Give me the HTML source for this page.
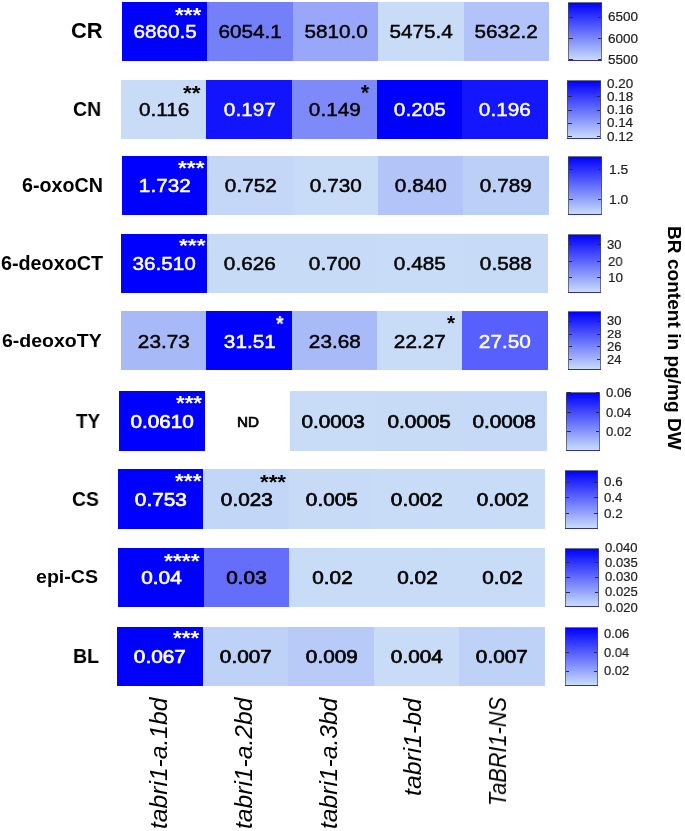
<!DOCTYPE html>
<html><head><meta charset="utf-8"><style>
html,body{margin:0;padding:0;background:#fff;}
body{width:685px;height:831px;position:relative;overflow:hidden;font-family:"Liberation Sans",sans-serif;}
.t{position:absolute;line-height:1;white-space:nowrap;transform-origin:0 0;color:#000;will-change:transform;}
.c{position:absolute;display:flex;align-items:center;justify-content:center;font-size:19px;color:#000;}
.c span{display:inline-block;transform:scaleX(1.09);-webkit-text-stroke:0.6px currentColor;will-change:transform;}
.cb{position:absolute;box-sizing:border-box;border:1px solid rgba(70,70,85,0.7);background:linear-gradient(to bottom,#0000ff,#c8dcfa);}
.tk{position:absolute;height:1px;width:3.5px;background:#2a2a3a;}
</style></head><body>

<div class="c" style="left:122.00px;top:1.80px;width:86.00px;height:59.00px;background:rgb(0,0,255);color:#fff;"><span style="position:relative;top:0.55px;-webkit-text-stroke-width:0.45px">6860.5</span></div>
<div class="c" style="left:207.40px;top:1.80px;width:86.00px;height:59.00px;background:rgb(116,128,250);color:#000;"><span style="position:relative;top:0.55px;-webkit-text-stroke-width:0.45px">6054.1</span></div>
<div class="c" style="left:292.80px;top:1.80px;width:86.00px;height:59.00px;background:rgb(152,167,249);color:#000;"><span style="position:relative;top:0.55px;-webkit-text-stroke-width:0.45px">5810.0</span></div>
<div class="c" style="left:378.20px;top:1.80px;width:86.00px;height:59.00px;background:rgb(200,220,247);color:#000;"><span style="position:relative;top:0.55px;-webkit-text-stroke-width:0.45px">5475.4</span></div>
<div class="c" style="left:463.60px;top:1.80px;width:85.40px;height:59.00px;background:rgb(177,195,248);color:#000;"><span style="position:relative;top:0.55px;-webkit-text-stroke-width:0.45px">5632.2</span></div>
<div class="t" style="left:71.04px;top:20.13px;font-size:21.83px;transform:scaleX(1.0058);font-weight:bold;">CR</div>
<div class="t" style="left:174.90px;top:5.21px;font-size:20.54px;transform:scaleX(1.0996);font-weight:bold;color:#fff;">***</div>
<div class="cb" style="left:568.3px;top:1.5px;width:33.3px;height:59.2px;"></div>
<div class="tk" style="left:569.3px;top:17.3px;"></div>
<div class="tk" style="left:597.6px;top:17.3px;"></div>
<div class="tk" style="left:569.3px;top:38.1px;"></div>
<div class="tk" style="left:597.6px;top:38.1px;"></div>
<div class="tk" style="left:569.3px;top:58.8px;"></div>
<div class="tk" style="left:597.6px;top:58.8px;"></div>
<div class="t" style="left:608.28px;top:11.40px;font-size:12.39px;transform:scaleX(1.0909);color:#1e1e1e;-webkit-text-stroke:0.2px #1e1e1e;">6500</div>
<div class="t" style="left:608.28px;top:32.90px;font-size:12.39px;transform:scaleX(1.0909);color:#1e1e1e;-webkit-text-stroke:0.2px #1e1e1e;">6000</div>
<div class="t" style="left:608.42px;top:53.54px;font-size:12.39px;transform:scaleX(1.0858);color:#1e1e1e;-webkit-text-stroke:0.2px #1e1e1e;">5500</div>
<div class="c" style="left:121.00px;top:80.00px;width:85.94px;height:58.60px;background:rgb(200,220,247);color:#000;"><span style="position:relative;top:1.10px;-webkit-text-stroke-width:0.45px">0.116</span></div>
<div class="c" style="left:206.34px;top:80.00px;width:85.94px;height:58.60px;background:rgb(18,20,254);color:#fff;"><span style="position:relative;top:1.10px;-webkit-text-stroke-width:0.45px">0.197</span></div>
<div class="c" style="left:291.68px;top:80.00px;width:85.94px;height:58.60px;background:rgb(126,138,250);color:#000;"><span style="position:relative;top:1.10px;-webkit-text-stroke-width:0.45px">0.149</span></div>
<div class="c" style="left:377.02px;top:80.00px;width:85.94px;height:58.60px;background:rgb(0,0,255);color:#fff;"><span style="position:relative;top:1.10px;-webkit-text-stroke-width:0.45px">0.205</span></div>
<div class="c" style="left:462.36px;top:80.00px;width:85.34px;height:58.60px;background:rgb(20,22,254);color:#fff;"><span style="position:relative;top:1.10px;-webkit-text-stroke-width:0.45px">0.196</span></div>
<div class="t" style="left:72.88px;top:99.84px;font-size:19.72px;transform:scaleX(0.9878);font-weight:bold;">CN</div>
<div class="t" style="left:183.20px;top:82.57px;font-size:20.54px;transform:scaleX(1.0985);font-weight:bold;color:#000;">**</div>
<div class="t" style="left:360.56px;top:81.76px;font-size:21.62px;transform:scaleX(0.9487);font-weight:bold;color:#000;">*</div>
<div class="cb" style="left:567.2px;top:80.3px;width:33.7px;height:59.2px;"></div>
<div class="tk" style="left:568.2px;top:82.9px;"></div>
<div class="tk" style="left:596.9px;top:82.9px;"></div>
<div class="tk" style="left:568.2px;top:96.3px;"></div>
<div class="tk" style="left:596.9px;top:96.3px;"></div>
<div class="tk" style="left:568.2px;top:109.5px;"></div>
<div class="tk" style="left:596.9px;top:109.5px;"></div>
<div class="tk" style="left:568.2px;top:122.6px;"></div>
<div class="tk" style="left:596.9px;top:122.6px;"></div>
<div class="tk" style="left:568.2px;top:135.8px;"></div>
<div class="tk" style="left:596.9px;top:135.8px;"></div>
<div class="t" style="left:607.12px;top:78.98px;font-size:11.97px;transform:scaleX(1.1212);color:#1e1e1e;-webkit-text-stroke:0.2px #1e1e1e;">0.20</div>
<div class="t" style="left:607.12px;top:90.96px;font-size:12.11px;transform:scaleX(1.1141);color:#1e1e1e;-webkit-text-stroke:0.2px #1e1e1e;">0.18</div>
<div class="t" style="left:607.12px;top:103.96px;font-size:12.25px;transform:scaleX(1.1013);color:#1e1e1e;-webkit-text-stroke:0.2px #1e1e1e;">0.16</div>
<div class="t" style="left:607.13px;top:117.32px;font-size:12.25px;transform:scaleX(1.0896);color:#1e1e1e;-webkit-text-stroke:0.2px #1e1e1e;">0.14</div>
<div class="t" style="left:607.12px;top:131.62px;font-size:11.97px;transform:scaleX(1.1272);color:#1e1e1e;-webkit-text-stroke:0.2px #1e1e1e;">0.12</div>
<div class="c" style="left:122.00px;top:156.00px;width:85.96px;height:59.10px;background:rgb(0,0,255);color:#fff;"><span style="position:relative;top:0.30px;-webkit-text-stroke-width:0.50px">1.732</span></div>
<div class="c" style="left:207.36px;top:156.00px;width:85.96px;height:59.10px;background:rgb(196,215,247);color:#000;"><span style="position:relative;top:0.30px;-webkit-text-stroke-width:0.50px">0.752</span></div>
<div class="c" style="left:292.72px;top:156.00px;width:85.96px;height:59.10px;background:rgb(200,220,247);color:#000;"><span style="position:relative;top:0.30px;-webkit-text-stroke-width:0.50px">0.730</span></div>
<div class="c" style="left:378.08px;top:156.00px;width:85.96px;height:59.10px;background:rgb(178,196,248);color:#000;"><span style="position:relative;top:0.30px;-webkit-text-stroke-width:0.50px">0.840</span></div>
<div class="c" style="left:463.44px;top:156.00px;width:85.36px;height:59.10px;background:rgb(188,207,247);color:#000;"><span style="position:relative;top:0.30px;-webkit-text-stroke-width:0.50px">0.789</span></div>
<div class="t" style="left:22.49px;top:175.70px;font-size:19.58px;transform:scaleX(1.0050);font-weight:bold;">6-oxoCN</div>
<div class="t" style="left:178.42px;top:158.64px;font-size:19.73px;transform:scaleX(1.1491);font-weight:bold;color:#fff;">***</div>
<div class="cb" style="left:568.4px;top:155.8px;width:33.4px;height:59.4px;"></div>
<div class="tk" style="left:569.4px;top:169.1px;"></div>
<div class="tk" style="left:597.8px;top:169.1px;"></div>
<div class="tk" style="left:569.4px;top:198.8px;"></div>
<div class="tk" style="left:597.8px;top:198.8px;"></div>
<div class="t" style="left:608.81px;top:162.87px;font-size:13.29px;transform:scaleX(1.0431);color:#1e1e1e;-webkit-text-stroke:0.2px #1e1e1e;">1.5</div>
<div class="t" style="left:608.81px;top:192.68px;font-size:13.10px;transform:scaleX(1.0580);color:#1e1e1e;-webkit-text-stroke:0.2px #1e1e1e;">1.0</div>
<div class="c" style="left:121.20px;top:233.75px;width:85.96px;height:59.45px;background:rgb(0,0,255);color:#fff;"><span style="position:relative;top:0.80px;-webkit-text-stroke-width:0.50px">36.510</span></div>
<div class="c" style="left:206.56px;top:233.75px;width:85.96px;height:59.45px;background:rgb(199,219,247);color:#000;"><span style="position:relative;top:0.80px;-webkit-text-stroke-width:0.50px">0.626</span></div>
<div class="c" style="left:291.92px;top:233.75px;width:85.96px;height:59.45px;background:rgb(199,219,247);color:#000;"><span style="position:relative;top:0.80px;-webkit-text-stroke-width:0.50px">0.700</span></div>
<div class="c" style="left:377.28px;top:233.75px;width:85.96px;height:59.45px;background:rgb(200,220,247);color:#000;"><span style="position:relative;top:0.80px;-webkit-text-stroke-width:0.50px">0.485</span></div>
<div class="c" style="left:462.64px;top:233.75px;width:85.36px;height:59.45px;background:rgb(199,219,247);color:#000;"><span style="position:relative;top:0.80px;-webkit-text-stroke-width:0.50px">0.588</span></div>
<div class="t" style="left:0.97px;top:254.21px;font-size:19.59px;transform:scaleX(1.0087);font-weight:bold;">6-deoxoCT</div>
<div class="t" style="left:178.50px;top:235.81px;font-size:19.19px;transform:scaleX(1.1815);font-weight:bold;color:#fff;">***</div>
<div class="cb" style="left:567.9px;top:233.6px;width:33.2px;height:59.6px;"></div>
<div class="tk" style="left:568.9px;top:244.2px;"></div>
<div class="tk" style="left:597.1px;top:244.2px;"></div>
<div class="tk" style="left:568.9px;top:260.6px;"></div>
<div class="tk" style="left:597.1px;top:260.6px;"></div>
<div class="tk" style="left:568.9px;top:276.9px;"></div>
<div class="tk" style="left:597.1px;top:276.9px;"></div>
<div class="t" style="left:607.34px;top:237.82px;font-size:13.10px;transform:scaleX(0.9932);color:#1e1e1e;-webkit-text-stroke:0.2px #1e1e1e;">30</div>
<div class="t" style="left:608.00px;top:254.61px;font-size:13.52px;transform:scaleX(0.9716);color:#1e1e1e;-webkit-text-stroke:0.2px #1e1e1e;">20</div>
<div class="t" style="left:607.58px;top:270.68px;font-size:13.10px;transform:scaleX(1.0333);color:#1e1e1e;-webkit-text-stroke:0.2px #1e1e1e;">10</div>
<div class="c" style="left:121.00px;top:311.40px;width:85.94px;height:58.90px;background:rgb(168,185,248);color:#000;"><span style="position:relative;top:0.80px;-webkit-text-stroke-width:0.50px">23.73</span></div>
<div class="c" style="left:206.34px;top:311.40px;width:85.94px;height:58.90px;background:rgb(0,0,255);color:#fff;"><span style="position:relative;top:0.80px;-webkit-text-stroke-width:0.50px">31.51</span></div>
<div class="c" style="left:291.68px;top:311.40px;width:85.94px;height:58.90px;background:rgb(169,186,248);color:#000;"><span style="position:relative;top:0.80px;-webkit-text-stroke-width:0.50px">23.68</span></div>
<div class="c" style="left:377.02px;top:311.40px;width:85.94px;height:58.90px;background:rgb(200,220,247);color:#000;"><span style="position:relative;top:0.80px;-webkit-text-stroke-width:0.50px">22.27</span></div>
<div class="c" style="left:462.36px;top:311.40px;width:85.34px;height:58.90px;background:rgb(87,95,252);color:#fff;"><span style="position:relative;top:0.80px;-webkit-text-stroke-width:0.50px">27.50</span></div>
<div class="t" style="left:2.32px;top:331.66px;font-size:18.51px;transform:scaleX(1.0536);font-weight:bold;">6-deoxoTY</div>
<div class="t" style="left:275.94px;top:313.48px;font-size:21.62px;transform:scaleX(0.9131);font-weight:bold;color:#fff;">*</div>
<div class="t" style="left:447.36px;top:312.91px;font-size:20.81px;transform:scaleX(0.9857);font-weight:bold;color:#000;">*</div>
<div class="cb" style="left:567.6px;top:311.3px;width:33.3px;height:59.2px;"></div>
<div class="tk" style="left:568.6px;top:320.5px;"></div>
<div class="tk" style="left:596.9px;top:320.5px;"></div>
<div class="tk" style="left:568.6px;top:333.5px;"></div>
<div class="tk" style="left:596.9px;top:333.5px;"></div>
<div class="tk" style="left:568.6px;top:346.4px;"></div>
<div class="tk" style="left:596.9px;top:346.4px;"></div>
<div class="tk" style="left:568.6px;top:359.0px;"></div>
<div class="tk" style="left:596.9px;top:359.0px;"></div>
<div class="t" style="left:607.06px;top:314.96px;font-size:12.11px;transform:scaleX(1.0741);color:#1e1e1e;-webkit-text-stroke:0.2px #1e1e1e;">30</div>
<div class="t" style="left:606.92px;top:328.91px;font-size:11.83px;transform:scaleX(1.1104);color:#1e1e1e;-webkit-text-stroke:0.2px #1e1e1e;">28</div>
<div class="t" style="left:606.92px;top:340.90px;font-size:12.68px;transform:scaleX(1.0364);color:#1e1e1e;-webkit-text-stroke:0.2px #1e1e1e;">26</div>
<div class="t" style="left:606.93px;top:353.66px;font-size:12.43px;transform:scaleX(1.0468);color:#1e1e1e;-webkit-text-stroke:0.2px #1e1e1e;">24</div>
<div class="c" style="left:119.10px;top:391.25px;width:86.14px;height:59.55px;background:rgb(0,0,255);color:#fff;"><span style="position:relative;top:0.95px;-webkit-text-stroke-width:0.70px">0.0610</span></div>
<div class="c" style="left:204.64px;top:391.25px;width:86.14px;height:59.55px;background:#fff;color:#000;font-size:14px;"><span style="position:relative;top:0.95px;-webkit-text-stroke-width:0.70px">ND</span></div>
<div class="c" style="left:290.18px;top:391.25px;width:86.14px;height:59.55px;background:rgb(200,220,247);color:#000;"><span style="position:relative;top:0.95px;-webkit-text-stroke-width:0.70px">0.0003</span></div>
<div class="c" style="left:375.72px;top:391.25px;width:86.14px;height:59.55px;background:rgb(199,219,247);color:#000;"><span style="position:relative;top:0.95px;-webkit-text-stroke-width:0.70px">0.0005</span></div>
<div class="c" style="left:461.26px;top:391.25px;width:85.54px;height:59.55px;background:rgb(198,218,247);color:#000;"><span style="position:relative;top:0.95px;-webkit-text-stroke-width:0.70px">0.0008</span></div>
<div class="t" style="left:76.49px;top:410.83px;font-size:20.29px;transform:scaleX(0.9266);font-weight:bold;">TY</div>
<div class="t" style="left:175.84px;top:394.42px;font-size:19.73px;transform:scaleX(1.1317);font-weight:bold;color:#fff;">***</div>
<div class="cb" style="left:566.4px;top:391.8px;width:33.3px;height:59.5px;"></div>
<div class="tk" style="left:567.4px;top:392.4px;"></div>
<div class="tk" style="left:595.7px;top:392.4px;"></div>
<div class="tk" style="left:567.4px;top:411.9px;"></div>
<div class="tk" style="left:595.7px;top:411.9px;"></div>
<div class="tk" style="left:567.4px;top:431.2px;"></div>
<div class="tk" style="left:595.7px;top:431.2px;"></div>
<div class="t" style="left:606.07px;top:387.12px;font-size:12.68px;transform:scaleX(1.0391);color:#1e1e1e;-webkit-text-stroke:0.2px #1e1e1e;">0.06</div>
<div class="t" style="left:606.08px;top:406.54px;font-size:12.68px;transform:scaleX(1.0281);color:#1e1e1e;-webkit-text-stroke:0.2px #1e1e1e;">0.04</div>
<div class="t" style="left:606.07px;top:426.26px;font-size:12.82px;transform:scaleX(1.0277);color:#1e1e1e;-webkit-text-stroke:0.2px #1e1e1e;">0.02</div>
<div class="c" style="left:118.00px;top:469.40px;width:86.00px;height:59.50px;background:rgb(0,0,255);color:#fff;"><span style="position:relative;top:1.20px;-webkit-text-stroke-width:0.70px">0.753</span></div>
<div class="c" style="left:203.40px;top:469.40px;width:86.00px;height:59.50px;background:rgb(194,214,247);color:#000;"><span style="position:relative;top:1.20px;-webkit-text-stroke-width:0.70px">0.023</span></div>
<div class="c" style="left:288.80px;top:469.40px;width:86.00px;height:59.50px;background:rgb(199,219,247);color:#000;"><span style="position:relative;top:1.20px;-webkit-text-stroke-width:0.70px">0.005</span></div>
<div class="c" style="left:374.20px;top:469.40px;width:86.00px;height:59.50px;background:rgb(200,220,247);color:#000;"><span style="position:relative;top:1.20px;-webkit-text-stroke-width:0.70px">0.002</span></div>
<div class="c" style="left:459.60px;top:469.40px;width:85.40px;height:59.50px;background:rgb(200,220,247);color:#000;"><span style="position:relative;top:1.20px;-webkit-text-stroke-width:0.70px">0.002</span></div>
<div class="t" style="left:72.49px;top:489.62px;font-size:19.58px;transform:scaleX(0.9826);font-weight:bold;">CS</div>
<div class="t" style="left:175.28px;top:471.47px;font-size:20.81px;transform:scaleX(1.0895);font-weight:bold;color:#fff;">***</div>
<div class="t" style="left:259.76px;top:471.55px;font-size:20.81px;transform:scaleX(1.0729);font-weight:bold;color:#000;">***</div>
<div class="cb" style="left:564.9px;top:469.6px;width:33.4px;height:59.6px;"></div>
<div class="tk" style="left:565.9px;top:481.6px;"></div>
<div class="tk" style="left:594.3px;top:481.6px;"></div>
<div class="tk" style="left:565.9px;top:497.4px;"></div>
<div class="tk" style="left:594.3px;top:497.4px;"></div>
<div class="tk" style="left:565.9px;top:512.9px;"></div>
<div class="tk" style="left:594.3px;top:512.9px;"></div>
<div class="t" style="left:604.21px;top:476.26px;font-size:12.54px;transform:scaleX(1.0657);color:#1e1e1e;-webkit-text-stroke:0.2px #1e1e1e;">0.6</div>
<div class="t" style="left:604.21px;top:491.82px;font-size:12.39px;transform:scaleX(1.0696);color:#1e1e1e;-webkit-text-stroke:0.2px #1e1e1e;">0.4</div>
<div class="t" style="left:604.20px;top:507.76px;font-size:12.68px;transform:scaleX(1.0620);color:#1e1e1e;-webkit-text-stroke:0.2px #1e1e1e;">0.2</div>
<div class="c" style="left:118.30px;top:547.60px;width:86.02px;height:59.40px;background:rgb(0,0,255);color:#fff;"><span style="position:relative;top:0.85px;-webkit-text-stroke-width:0.70px">0.04</span></div>
<div class="c" style="left:203.72px;top:547.60px;width:86.02px;height:59.40px;background:rgb(100,110,251);color:#000;"><span style="position:relative;top:0.85px;-webkit-text-stroke-width:0.70px">0.03</span></div>
<div class="c" style="left:289.14px;top:547.60px;width:86.02px;height:59.40px;background:rgb(200,220,247);color:#000;"><span style="position:relative;top:0.85px;-webkit-text-stroke-width:0.70px">0.02</span></div>
<div class="c" style="left:374.56px;top:547.60px;width:86.02px;height:59.40px;background:rgb(200,220,247);color:#000;"><span style="position:relative;top:0.85px;-webkit-text-stroke-width:0.70px">0.02</span></div>
<div class="c" style="left:459.98px;top:547.60px;width:85.42px;height:59.40px;background:rgb(200,220,247);color:#000;"><span style="position:relative;top:0.85px;-webkit-text-stroke-width:0.70px">0.02</span></div>
<div class="t" style="left:36.18px;top:568.26px;font-size:18.83px;transform:scaleX(1.0398);font-weight:bold;">epi-CS</div>
<div class="t" style="left:164.40px;top:550.74px;font-size:20.27px;transform:scaleX(1.1299);font-weight:bold;color:#fff;">****</div>
<div class="cb" style="left:565.3px;top:547.9px;width:33.5px;height:59.6px;"></div>
<div class="tk" style="left:566.3px;top:561.9px;"></div>
<div class="tk" style="left:594.8px;top:561.9px;"></div>
<div class="tk" style="left:566.3px;top:576.9px;"></div>
<div class="tk" style="left:594.8px;top:576.9px;"></div>
<div class="tk" style="left:566.3px;top:591.8px;"></div>
<div class="tk" style="left:594.8px;top:591.8px;"></div>
<div class="t" style="left:605.10px;top:541.68px;font-size:12.39px;transform:scaleX(1.0535);color:#1e1e1e;-webkit-text-stroke:0.2px #1e1e1e;">0.040</div>
<div class="t" style="left:605.10px;top:556.62px;font-size:12.82px;transform:scaleX(1.0188);color:#1e1e1e;-webkit-text-stroke:0.2px #1e1e1e;">0.035</div>
<div class="t" style="left:605.10px;top:571.40px;font-size:12.68px;transform:scaleX(1.0301);color:#1e1e1e;-webkit-text-stroke:0.2px #1e1e1e;">0.030</div>
<div class="t" style="left:605.10px;top:586.04px;font-size:12.68px;transform:scaleX(1.0301);color:#1e1e1e;-webkit-text-stroke:0.2px #1e1e1e;">0.025</div>
<div class="t" style="left:605.10px;top:601.54px;font-size:12.25px;transform:scaleX(1.0656);color:#1e1e1e;-webkit-text-stroke:0.2px #1e1e1e;">0.020</div>
<div class="c" style="left:117.20px;top:626.90px;width:86.12px;height:58.90px;background:rgb(0,0,255);color:#fff;"><span style="position:relative;top:1.15px;-webkit-text-stroke-width:0.70px">0.067</span></div>
<div class="c" style="left:202.72px;top:626.90px;width:86.12px;height:58.90px;background:rgb(190,210,247);color:#000;"><span style="position:relative;top:1.15px;-webkit-text-stroke-width:0.70px">0.007</span></div>
<div class="c" style="left:288.24px;top:626.90px;width:86.12px;height:58.90px;background:rgb(184,203,248);color:#000;"><span style="position:relative;top:1.15px;-webkit-text-stroke-width:0.70px">0.009</span></div>
<div class="c" style="left:373.76px;top:626.90px;width:86.12px;height:58.90px;background:rgb(200,220,247);color:#000;"><span style="position:relative;top:1.15px;-webkit-text-stroke-width:0.70px">0.004</span></div>
<div class="c" style="left:459.28px;top:626.90px;width:85.52px;height:58.90px;background:rgb(190,210,247);color:#000;"><span style="position:relative;top:1.15px;-webkit-text-stroke-width:0.70px">0.007</span></div>
<div class="t" style="left:73.09px;top:646.26px;font-size:20.87px;transform:scaleX(0.9389);font-weight:bold;">BL</div>
<div class="t" style="left:172.54px;top:629.17px;font-size:19.46px;transform:scaleX(1.1607);font-weight:bold;color:#fff;">***</div>
<div class="cb" style="left:564.6px;top:627.2px;width:33.0px;height:59.2px;"></div>
<div class="tk" style="left:565.6px;top:633.3px;"></div>
<div class="tk" style="left:593.6px;top:633.3px;"></div>
<div class="tk" style="left:565.6px;top:652.2px;"></div>
<div class="tk" style="left:593.6px;top:652.2px;"></div>
<div class="tk" style="left:565.6px;top:670.5px;"></div>
<div class="tk" style="left:593.6px;top:670.5px;"></div>
<div class="t" style="left:604.16px;top:628.48px;font-size:12.68px;transform:scaleX(1.0264);color:#1e1e1e;-webkit-text-stroke:0.2px #1e1e1e;">0.06</div>
<div class="t" style="left:604.17px;top:645.60px;font-size:13.10px;transform:scaleX(0.9827);color:#1e1e1e;-webkit-text-stroke:0.2px #1e1e1e;">0.04</div>
<div class="t" style="left:604.16px;top:665.48px;font-size:12.68px;transform:scaleX(1.0264);color:#1e1e1e;-webkit-text-stroke:0.2px #1e1e1e;">0.02</div>
<div class="t" style="left:147.22px;top:829.45px;font-size:24.19px;transform:rotate(-90deg) scaleX(1.0176);font-style:italic;">tabri1-a.1bd</div>
<div class="t" style="left:232.19px;top:829.45px;font-size:24.05px;transform:rotate(-90deg) scaleX(1.0233);font-style:italic;">tabri1-a.2bd</div>
<div class="t" style="left:316.88px;top:829.45px;font-size:24.32px;transform:rotate(-90deg) scaleX(1.0119);font-style:italic;">tabri1-a.3bd</div>
<div class="t" style="left:400.98px;top:795.80px;font-size:24.32px;transform:rotate(-90deg) scaleX(1.0194);font-style:italic;">tabri1-bd</div>
<div class="t" style="left:485.77px;top:806.39px;font-size:23.94px;transform:rotate(-90deg) scaleX(0.9059);font-style:italic;">TaBRI1-NS</div>
<div class="t" style="left:683.05px;top:226.36px;font-size:18.94px;transform:rotate(90deg) scaleX(1.0086);font-weight:bold;">BR content in pg/mg DW</div>
</body></html>
